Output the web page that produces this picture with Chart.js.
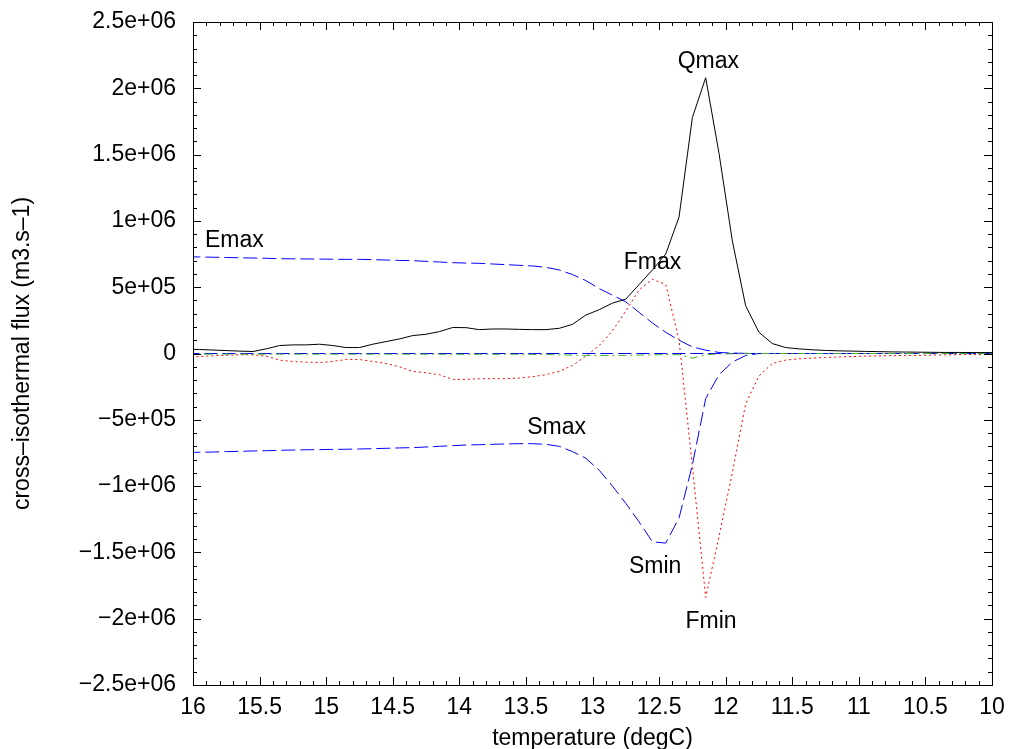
<!DOCTYPE html>
<html>
<head>
<meta charset="utf-8">
<script src="https://cdn.jsdelivr.net/npm/chart.js@4/dist/chart.umd.min.js"></script>
<style>
  html, body { margin: 0; padding: 0; background: #ffffff; }
  #wrap { width: 1009px; height: 749px; position: relative; }
</style>
</head>
<body>
<div id="wrap"><canvas id="c" width="1009" height="749"></canvas></div>
<script>
// ---- data (temperature bins, degC) ----
const temps = [16.05,15.95,15.85,15.75,15.65,15.55,15.45,15.35,15.25,15.15,
  15.05,14.95,14.85,14.75,14.65,14.55,14.45,14.35,14.25,14.15,
  14.05,13.95,13.85,13.75,13.65,13.55,13.45,13.35,13.25,13.15,
  13.05,12.95,12.85,12.75,12.65,12.55,12.45,12.35,12.25,12.15,
  12.05,11.95,11.85,11.75,11.65,11.55,11.45,11.35,11.25,11.15,
  11.05,10.95,10.85,10.75,10.65,10.55,10.45,10.35,10.25,10.15,
  10.05,9.95];

// Q : black solid
const seriesQ = [3.2e4,3.0e4,2.6e4,2.2e4,1.8e4,1.5e4,3.5e4,6.0e4,6.5e4,6.5e4,
  7.0e4,6.0e4,4.5e4,4.5e4,7.0e4,9.0e4,1.1e5,1.35e5,1.45e5,1.65e5,
  1.96e5,1.95e5,1.8e5,1.85e5,1.85e5,1.82e5,1.8e5,1.8e5,1.9e5,2.2e5,
  2.9e5,3.3e5,3.8e5,4.1e5,5.2e5,6.3e5,7.5e5,1.03e6,1.78e6,2.08e6,
  1.51e6,8.5e5,3.6e5,1.6e5,7.5e4,4.5e4,3.5e4,2.8e4,2.3e4,2.0e4,
  1.8e4,1.6e4,1.4e4,1.2e4,1.1e4,1.0e4,9e3,8e3,8e3,7e3,
  7e3,7e3];

// F : red dotted
const seriesF = [-2.5e4,-2.3e4,-1.8e4,-1.3e4,-1.0e4,-1.0e4,-2.0e4,-5.0e4,-6.0e4,-6.5e4,
  -6.8e4,-6.0e4,-4.5e4,-4.5e4,-6.0e4,-7.5e4,-1.0e5,-1.35e5,-1.45e5,-1.6e5,
  -1.95e5,-1.95e5,-1.9e5,-1.9e5,-1.9e5,-1.85e5,-1.75e5,-1.6e5,-1.35e5,-9.0e4,
  -2.0e4,6.0e4,1.7e5,3.2e5,4.8e5,5.6e5,5.2e5,1.0e5,-8.5e5,-1.84e6,
  -1.38e6,-9.0e5,-3.8e5,-1.7e5,-7.5e4,-5.0e4,-4.0e4,-3.5e4,-3.0e4,-2.6e4,
  -2.3e4,-2.0e4,-1.8e4,-1.6e4,-1.5e4,-1.4e4,-1.2e4,-1.0e4,-9e3,-8e3,
  -7e3,-7e3];

// E : blue dashed (upper)
const seriesE = [7.3e5,7.28e5,7.26e5,7.24e5,7.22e5,7.2e5,7.18e5,7.15e5,7.14e5,7.13e5,
  7.12e5,7.11e5,7.1e5,7.1e5,7.08e5,7.05e5,7.02e5,7.0e5,6.95e5,6.9e5,
  6.85e5,6.82e5,6.8e5,6.75e5,6.7e5,6.65e5,6.6e5,6.5e5,6.3e5,5.95e5,
  5.5e5,4.9e5,4.4e5,3.9e5,3.1e5,2.3e5,1.6e5,1.0e5,5.0e4,2.5e4,
  8e3,3e3,1e3,0,0,0,0,0,0,0,
  0,0,0,0,0,0,0,0,0,0,
  0,0];

// S : blue dashed (lower)
const seriesS = [-7.45e5,-7.45e5,-7.43e5,-7.4e5,-7.38e5,-7.35e5,-7.33e5,-7.3e5,-7.28e5,-7.26e5,
  -7.25e5,-7.23e5,-7.22e5,-7.2e5,-7.18e5,-7.15e5,-7.12e5,-7.1e5,-7.05e5,-7.0e5,
  -6.95e5,-6.9e5,-6.88e5,-6.85e5,-6.82e5,-6.8e5,-6.8e5,-6.85e5,-7.0e5,-7.4e5,
  -7.9e5,-8.8e5,-1.0e6,-1.13e6,-1.27e6,-1.42e6,-1.43e6,-1.24e6,-8.4e5,-3.4e5,
  -1.6e5,-6.5e4,-1.5e4,0,0,0,0,0,0,0,
  0,0,0,0,0,0,0,0,0,0,
  0,0];

// zero-level blue dashed series
const seriesZ = [0,0,0,0,0,0,0,0,0,0,
  0,0,0,0,0,0,0,0,0,0,
  0,0,0,0,0,0,0,0,0,0,
  0,0,0,0,0,0,0,0,0,0,
  0,0,0,0,0,0,0,0,0,0,
  0,0,0,0,0,0,0,0,0,0,
  0,0];

// green dash-dot (slightly negative)
const seriesG = [-5e3,-5e3,-5e3,-5e3,-5e3,-5e3,-5e3,-5e3,-5e3,-5e3,
  -5e3,-5e3,-5e3,-5e3,-5e3,-5e3,-5e3,-5e3,-5e3,-6e3,
  -6e3,-6e3,-6e3,-6e3,-6e3,-6e3,-7e3,-8e3,-1.0e4,-1.2e4,
  -1.5e4,-1.5e4,-1.5e4,-1.4e4,-1.2e4,-1.0e4,-8e3,-1.0e4,-3.5e4,-1.0e4,
  -3e3,-2e3,-1e3,0,0,0,0,0,0,0,
  0,0,0,0,0,0,0,0,0,0,
  0,0];

// tick labels
const xTickValues = [16,15.5,15,14.5,14,13.5,13,12.5,12,11.5,11,10.5,10];
const xTickLabels = ['16','15.5','15','14.5','14','13.5','13','12.5','12','11.5','11','10.5','10'];
const yTickValues = [2.5e6,2e6,1.5e6,1e6,5e5,0,-5e5,-1e6,-1.5e6,-2e6,-2.5e6];
const yTickLabels = ['2.5e+06','2e+06','1.5e+06','1e+06','5e+05','0','\u22125e+05','\u22121e+06','\u22121.5e+06','\u22122e+06','\u22122.5e+06'];

// annotations
const noteTexts = ['Qmax','Emax','Fmax','Smax','Smin','Fmin'];
const noteX = [12.13,15.69,12.55,13.27,12.53,12.11];
const noteY = [2.2e6,8.48e5,6.82e5,-5.62e5,-1.61e6,-2.025e6];

const FONT = 'Liberation Sans, Arial, Helvetica, sans-serif';
const FSIZE = 23;

function pts(ys) { return temps.map((t, i) => ({ x: t, y: ys[i] })); }

const framePlugin = {
  id: 'frame',
  afterDatasetsDraw(chart) {
    const { ctx, chartArea: a, scales: { x, y } } = chart;
    ctx.save();
    ctx.strokeStyle = '#000';
    ctx.lineWidth = 1;
    ctx.beginPath();
    // x ticks (minor every 0.1, major every 0.5)
    for (let k = 0; k <= 60; k++) {
      const v = 10 + k * 0.1;
      const px = Math.round(x.getPixelForValue(v)) + 0.5;
      const len = (k % 5 === 0) ? 8 : 4;
      ctx.moveTo(px, a.bottom); ctx.lineTo(px, a.bottom - len);
      ctx.moveTo(px, a.top); ctx.lineTo(px, a.top + len);
    }
    // y ticks (minor every 1e5, major every 5e5)
    for (let k = 0; k <= 50; k++) {
      const v = -2.5e6 + k * 1e5;
      const py = Math.round(y.getPixelForValue(v)) + 0.5;
      const len = (k % 5 === 0) ? 8 : 4;
      ctx.moveTo(a.left, py); ctx.lineTo(a.left + len, py);
      ctx.moveTo(a.right, py); ctx.lineTo(a.right - len, py);
    }
    ctx.stroke();
    ctx.strokeRect(Math.round(a.left) + 0.5, Math.round(a.top) + 0.5,
      Math.round(a.right - a.left), Math.round(a.bottom - a.top));
    // annotations
    ctx.fillStyle = '#000';
    ctx.font = FSIZE + 'px ' + FONT;
    ctx.textAlign = 'center';
    ctx.textBaseline = 'middle';
    noteTexts.forEach((t, i) => {
      ctx.fillText(t, x.getPixelForValue(noteX[i]), y.getPixelForValue(noteY[i]));
    });
    ctx.restore();
  }
};

const common = { pointRadius: 0, borderWidth: 1, tension: 0, fill: false };

new Chart(document.getElementById('c'), {
  type: 'line',
  data: {
    datasets: [
      Object.assign({ label: 'Q', data: pts(seriesQ), borderColor: '#000000' }, common),
      Object.assign({ label: 'G', data: pts(seriesG), borderColor: '#44b030', borderDash: [8, 4, 2, 4] }, common),
      Object.assign({ label: 'Z', data: pts(seriesZ), borderColor: '#0000ee', borderDash: [13, 5] }, common),
      Object.assign({ label: 'E', data: pts(seriesE), borderColor: '#0000ff', borderDash: [14, 5] }, common),
      Object.assign({ label: 'S', data: pts(seriesS), borderColor: '#0000ff', borderDash: [14, 5] }, common),
      Object.assign({ label: 'F', data: pts(seriesF), borderColor: '#ff0000', borderDash: [2, 3] }, common)
    ]
  },
  options: {
    responsive: false,
    animation: false,
    events: [],
    layout: { padding: { left: 0, right: 17, top: 22, bottom: 0 } },
    plugins: { legend: { display: false }, tooltip: { enabled: false } },
    scales: {
      x: {
        type: 'linear',
        reverse: true,
        min: 10, max: 16,
        afterFit(s) { s.height = 64; s.paddingLeft = 0; s.paddingRight = 0; },
        afterBuildTicks(s) { s.ticks = xTickValues.map(v => ({ value: v })); },
        grid: { display: false, drawTicks: false },
        border: { display: false },
        ticks: {
          autoSkip: false, maxRotation: 0, padding: 9,
          color: '#000', font: { family: FONT, size: FSIZE },
          callback(v) { const i = xTickValues.indexOf(v); return i >= 0 ? xTickLabels[i] : ''; }
        },
        title: { display: true, text: 'temperature (degC)', color: '#000',
          font: { family: FONT, size: FSIZE }, padding: { top: 0, bottom: -3 } }
      },
      y: {
        type: 'linear',
        min: -2.5e6, max: 2.5e6,
        afterFit(s) { s.width = 193; s.paddingTop = 0; s.paddingBottom = 0; },
        afterBuildTicks(s) { s.ticks = yTickValues.map(v => ({ value: v })); },
        grid: { display: false, drawTicks: false },
        border: { display: false },
        ticks: {
          autoSkip: false, padding: 17,
          color: '#000', font: { family: FONT, size: FSIZE },
          callback(v) { const i = yTickValues.indexOf(v); return i >= 0 ? yTickLabels[i] : ''; }
        },
        title: { display: true, text: 'cross\u2013isothermal flux (m3.s\u20131)', color: '#000',
          font: { family: FONT, size: FSIZE }, padding: { top: 9, bottom: 0 } }
      }
    }
  },
  plugins: [framePlugin]
});
</script>
</body>
</html>
